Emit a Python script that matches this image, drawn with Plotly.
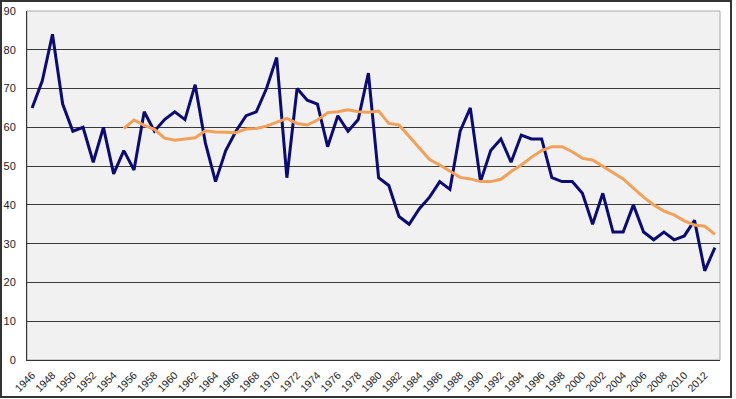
import plotly.graph_objects as go

years = list(range(1946, 2014))
values = [65, 72, 84, 66, 59, 60, 51, 60, 48, 54,
          49, 64, 59, 62, 64, 62, 71, 56, 46, 54,
          59, 63, 64, 70, 78, 47, 70, 67, 66, 55,
          63, 59, 62, 74, 47, 45, 37, 35, 39, 42,
          46, 44, 59, 65, 46, 54, 57, 51, 58, 57,
          57, 47, 46, 46, 43, 35, 43, 33, 33, 40,
          33, 31, 33, 31, 32, 36, 23, 29]
avg_years = list(range(1955, 2014))
avg_values = [59.7, 61.9, 60.5, 59.5, 57.2, 56.7, 57.0, 57.3, 59.1, 58.8,
              58.7, 58.6, 59.6, 59.7, 60.3, 61.2, 62.3, 61.0, 60.6, 61.9,
              63.8, 64.0, 64.5, 64.0, 63.9, 64.2, 61.0, 60.6, 57.6, 54.6,
              51.7, 50.3, 48.6, 47.1, 46.7, 46.0, 46.0, 46.6, 48.6, 50.3,
              52.3, 54.0, 55.0, 55.0, 53.7, 52.0, 51.6, 49.9, 48.4, 46.7,
              44.3, 42.0, 40.0, 38.4, 37.4, 35.9, 34.8, 34.5, 32.4]
tick_years = list(range(1946, 2014, 2))
y_ticks = list(range(0, 100, 10))

fig = go.Figure()
fig.add_trace(go.Scatter(x=years, y=values, mode="lines",
                         line=dict(color="#0b0b72", width=3), showlegend=False))
fig.add_trace(go.Scatter(x=avg_years, y=avg_values, mode="lines",
                         line=dict(color="#f2a05a", width=3), showlegend=False))

fig.update_layout(
    width=736, height=399,
    margin=dict(l=27, r=16, t=11, b=39, autoexpand=False),
    paper_bgcolor="white",
    plot_bgcolor="#f1f1f1",
    font=dict(family="Liberation Sans, Arial, sans-serif", size=11, color="#222"),
    xaxis=dict(range=[1945.5, 2013.5], tickvals=tick_years,
               ticktext=[str(y) for y in tick_years], tickangle=-45,
               showgrid=False, zeroline=False, showline=True,
               linecolor="#333", linewidth=1, ticks="",
               ticklabelstandoff=4, tickfont=dict(size=10.5)),
    yaxis=dict(range=[0, 90], tickvals=y_ticks, showgrid=True,
               gridcolor="#3a3a3a", gridwidth=1, zeroline=False,
               showline=True, linecolor="#333", linewidth=1, ticks="",
               ticklabelstandoff=8, tickfont=dict(size=11)),
    shapes=[
        dict(type="rect", xref="paper", yref="paper", x0=0, x1=1, y0=0, y1=1,
             line=dict(color="#a8a8a8", width=1), layer="below"),
        dict(type="rect", xref="paper", yref="paper",
             x0=-0.0375, x1=1.0159, y0=-0.106, y1=1.0287,
             line=dict(color="#333", width=2), layer="below"),
    ],
)

fig.write_html("out.html", config={"displayModeBar": False},
               post_script="document.body.style.margin='0';document.body.style.overflow='hidden';")
